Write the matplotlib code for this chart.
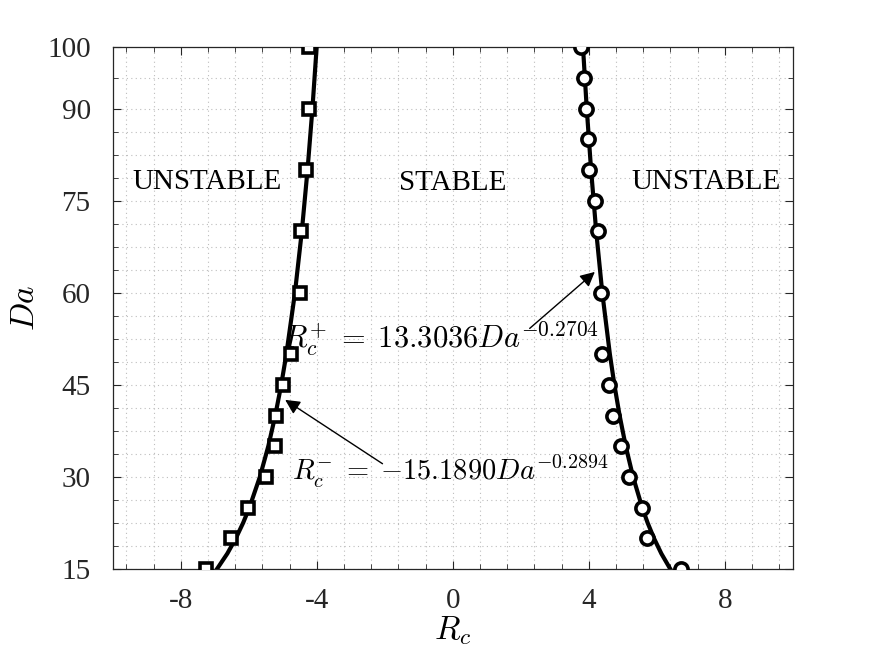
import numpy as np
import matplotlib
matplotlib.use("Agg")
import matplotlib.pyplot as plt
from matplotlib.ticker import FixedLocator

plt.rcParams['font.family'] = ['Liberation Serif', 'DejaVu Serif']
plt.rcParams['mathtext.fontset'] = 'cm'

# computed stability points
da_neg = [15, 20, 25, 30, 35, 40, 45, 50, 60, 70, 80, 90, 100]
rc_neg = [-7.26, -6.53, -6.02, -5.50, -5.24, -5.19, -4.99, -4.77, -4.49, -4.46, -4.33, -4.23, -4.23]

da_pos = [15, 20, 25, 30, 35, 40, 45, 50, 60, 70, 75, 80, 85, 90, 95, 100]
rc_pos = [6.71, 5.72, 5.56, 5.19, 4.94, 4.71, 4.58, 4.40, 4.35, 4.28, 4.19, 4.01, 3.99, 3.93, 3.86, 3.76]

# fitted curves (values of the fits shown in the annotations)
da_fit = [15, 17.5, 20, 22.5, 25, 30, 35, 40, 45, 50, 60, 70, 80, 90, 100]
rc_fit_pos = [6.397, 6.135, 5.918, 5.732, 5.571, 5.303, 5.087, 4.907, 4.753, 4.620,
              4.397, 4.218, 4.068, 3.940, 3.830]
rc_fit_neg = [-6.937, -6.634, -6.383, -6.169, -5.984, -5.676, -5.428, -5.223, -5.048,
              -4.897, -4.644, -4.442, -4.274, -4.130, -4.006]

x_ticks = [-8, -4, 0, 4, 8]
y_ticks = [15, 30, 45, 60, 75, 90, 100]

fig = plt.figure(figsize=(8.75, 6.57), dpi=100)
ax = fig.add_axes([0.129, 0.134, 0.777, 0.794])

ax.plot(rc_fit_neg, da_fit, color='k', lw=3, zorder=3)
ax.plot(rc_fit_pos, da_fit, color='k', lw=3, zorder=3)
ax.plot(rc_neg, da_neg, ls='none', marker='s', ms=8, mew=2.6, mfc='white', mec='k', zorder=4)
ax.plot(rc_pos, da_pos, ls='none', marker='o', ms=9.5, mew=2.6, mfc='white', mec='k', zorder=4)

ax.set_xlim(-10, 10)
ax.set_ylim(15, 100)
ax.set_xticks(x_ticks)
ax.set_xticklabels([str(t) for t in x_ticks])
ax.set_yticks(y_ticks)
ax.xaxis.set_minor_locator(FixedLocator(np.arange(-9.6, 10, 0.8)))
ax.yaxis.set_minor_locator(FixedLocator(list(np.arange(18.75, 90, 3.75)) + [95]))

ax.tick_params(which='both', direction='in', top=True, right=True, colors='#262626')
ax.tick_params(which='major', length=6, labelsize=21, width=0.8)
ax.tick_params(which='minor', length=3.5, width=0.6)
ax.tick_params(axis='y', pad=16)
ax.tick_params(axis='x', pad=14)
for s in ax.spines.values():
    s.set_color('#262626')
    s.set_linewidth(0.9)

ax.grid(True, which='both', ls=(0, (1, 3)), color='#bdbdbd', lw=0.8)
ax.set_axisbelow(True)

ax.set_xlabel(r'$R_c$', fontsize=24, labelpad=0)
ax.set_ylabel(r'$Da$', fontsize=24, labelpad=4)

ax.text(-7.24, 78.0, 'UNSTABLE', fontsize=21, ha='center', va='center')
ax.text(0.0, 77.9, 'STABLE', fontsize=21, ha='center', va='center')
ax.text(7.44, 78.0, 'UNSTABLE', fontsize=21, ha='center', va='center')

ax.annotate('', xy=(4.24, 63.7), xytext=(2.2, 53.9),
            arrowprops=dict(arrowstyle='-|>', color='k', lw=1, mutation_scale=22))
ax.annotate('', xy=(-5.0, 42.8), xytext=(-2.0, 31.9),
            arrowprops=dict(arrowstyle='-|>', color='k', lw=1, mutation_scale=22))
ax.text(-5.0, 52.6, r'$R_c^{+}\;=\;13.3036Da^{-0.2704}$', fontsize=22, ha='left', va='center')
ax.text(-4.74, 30.8, r'$R_c^{-}\;=\;{-}15.1890Da^{-0.2894}$', fontsize=20.5, ha='left', va='center')

fig.savefig('out.png', dpi=100)
